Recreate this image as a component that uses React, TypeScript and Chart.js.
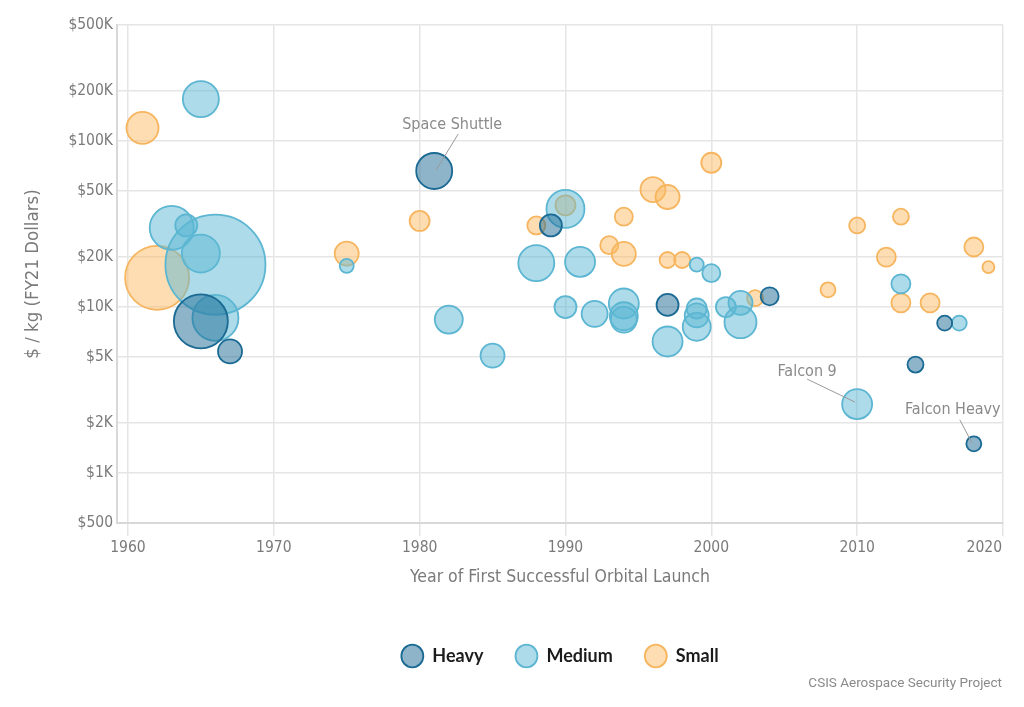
import React, { useEffect, useRef } from 'react';
import { Chart, registerables } from 'chart.js';

Chart.register(...registerables);

// ---- Data (year of first successful orbital launch, $/kg FY21, bubble size) ----
const heavyYears = [1965, 1967, 1981, 1989, 1997, 2004, 2014, 2016, 2018];
const heavyCosts = [8200, 5400, 66000, 31000, 10300, 11600, 4500, 8000, 1500];
const heavySizes = [27, 12, 18, 11, 11, 9, 8, 7.5, 7.5];

const mediumYears = [
  1963, 1964, 1965, 1965, 1966, 1966, 1975, 1982, 1985, 1988, 1990, 1990, 1991, 1992, 1994, 1994,
  1994, 1997, 1999, 1999, 1999, 1999, 2000, 2001, 2002, 2002, 2010, 2013, 2017,
];
const mediumCosts = [
  30000, 31000, 179000, 21000, 18000, 8600, 17700, 8400, 5100, 18400, 39000, 10000, 18700, 9100,
  10500, 8800, 8400, 6200, 18000, 9800, 8900, 7600, 16000, 10000, 10600, 8100, 2600, 13800, 8000,
];
const mediumSizes = [
  22, 11, 18, 19, 50, 23, 7, 14, 12, 18, 19, 11, 15, 13, 15, 14, 13, 15, 7, 10, 12, 14, 9, 10, 12,
  16, 15, 9.5, 7.5,
];

const smallYears = [
  1961, 1962, 1975, 1980, 1988, 1990, 1993, 1994, 1994, 1996, 1997, 1997, 1998, 2000, 2003, 2008,
  2010, 2012, 2013, 2013, 2015, 2018, 2019,
];
const smallCosts = [
  120000, 15000, 21000, 33000, 31000, 41000, 23600, 35000, 20900, 51000, 46000, 19200, 19200, 74000,
  11300, 12700, 31000, 20000, 35000, 10600, 10600, 23000, 17400,
];
const smallSizes = [
  16, 32, 12, 10, 9, 10, 9, 9, 12, 12.5, 12, 8, 8, 10, 8, 7.5, 8, 9.5, 8, 9.5, 9.5, 9.5, 6,
];

const seriesNames = ['Heavy', 'Medium', 'Small'];

const xTickValues = [1960, 1970, 1980, 1990, 2000, 2010, 2020];
const yTickValues = [500, 1000, 2000, 5000, 10000, 20000, 50000, 100000, 200000, 500000];
const yTickLabels = ['$500', '$1K', '$2K', '$5K', '$10K', '$20K', '$50K', '$100K', '$200K', '$500K'];

const annotationTexts = ['Space Shuttle', 'Falcon 9', 'Falcon Heavy'];
const annotationYears = [1981, 2010, 2018];
const annotationCosts = [66000, 2600, 1500];

const xTitle = 'Year of First Successful Orbital Launch';
const yTitle = '$ / kg (FY21 Dollars)';
const creditText = 'CSIS Aerospace Security Project';

// ---- Styling ----
const AXIS_FONT = "'DejaVu Sans Condensed', 'Roboto', sans-serif";
const GRID = '#e5e5e5';
const TEXT = '#7a7a7a';

const toPoints = (xs: number[], ys: number[], rs: number[]) =>
  xs.map((x, i) => ({ x, y: ys[i], r: rs[i] }));

// label offsets (px) relative to the annotated point, and leader line start/end offsets
const annotationLayout = [
  { dx: 18, dy: -46, lx1: 24, ly1: -37, lx2: 2, ly2: -1 },
  { dx: -50, dy: -32, lx1: -50, ly1: -25, lx2: -2, ly2: -2 },
  { dx: -21, dy: -34, lx1: -14, ly1: -24, lx2: -2, ly2: -1 },
];

const annotationPlugin = {
  id: 'pointAnnotations',
  afterDatasetsDraw(chart: any) {
    const { ctx, scales } = chart;
    ctx.save();
    ctx.font = `16px ${AXIS_FONT}`;
    ctx.fillStyle = '#8a8a8a';
    ctx.strokeStyle = '#9a9a9a';
    ctx.lineWidth = 1;
    ctx.textAlign = 'center';
    ctx.textBaseline = 'middle';
    annotationTexts.forEach((t, i) => {
      const px = scales.x.getPixelForValue(annotationYears[i]);
      const py = scales.y.getPixelForValue(annotationCosts[i]);
      const L = annotationLayout[i];
      ctx.beginPath();
      ctx.moveTo(px + L.lx1, py + L.ly1);
      ctx.lineTo(px + L.lx2, py + L.ly2);
      ctx.stroke();
      ctx.fillText(t, px + L.dx, py + L.dy);
    });
    ctx.restore();
  },
  afterDraw(chart: any) {
    const { ctx, scales } = chart;
    ctx.save();
    // last x tick label, right-aligned at its tick so it stays inside the plot width
    const last = xTickValues[xTickValues.length - 1];
    ctx.font = `15.5px ${AXIS_FONT}`;
    ctx.fillStyle = TEXT;
    ctx.textAlign = 'right';
    ctx.textBaseline = 'middle';
    ctx.fillText(String(last), scales.x.getPixelForValue(last) - 1, scales.x.top + 25);
    // credit line
    ctx.font = "13.5px 'Roboto', sans-serif";
    ctx.fillStyle = '#8a8a8a';
    ctx.fillText(creditText, chart.width - 22, 684);
    ctx.restore();
  },
};

export default function App() {
  const ref = useRef<HTMLCanvasElement>(null);

  useEffect(() => {
    if (!ref.current) return;
    const chart = new Chart(ref.current, {
      type: 'bubble',
      data: {
        datasets: [
          {
            label: seriesNames[0],
            data: toPoints(heavyYears, heavyCosts, heavySizes),
            backgroundColor: 'rgba(27,106,148,0.5)',
            borderColor: '#1b6a94',
            borderWidth: 1.8,
          },
          {
            label: seriesNames[1],
            data: toPoints(mediumYears, mediumCosts, mediumSizes),
            backgroundColor: 'rgba(92,184,211,0.5)',
            borderColor: '#5cb6d2',
            borderWidth: 1.8,
          },
          {
            label: seriesNames[2],
            data: toPoints(smallYears, smallCosts, smallSizes),
            backgroundColor: 'rgba(251,188,100,0.5)',
            borderColor: '#f6b55e',
            borderWidth: 1.8,
          },
        ],
      },
      options: {
        responsive: false,
        animation: false,
        layout: { autoPadding: false, padding: { left: 14, right: 21, top: 25, bottom: 32 } },
        plugins: {
          tooltip: { enabled: false },
          legend: {
            position: 'bottom',
            fullSize: false,
            labels: {
              usePointStyle: true,
              pointStyle: 'circle',
              pointStyleWidth: 22,
              boxHeight: 16,
              padding: 32,
              color: '#1c1c1c',
              font: { family: "'Lato', sans-serif", size: 18, weight: 'bold' },
            },
          },
        },
        scales: {
          x: {
            type: 'linear',
            min: 1959.25,
            max: 2020,
            afterBuildTicks: (scale: any) => {
              scale.ticks = xTickValues.map((v) => ({ value: v }));
            },
            afterFit: (scale: any) => {
              scale.height = 92;
            },
            ticks: {
              color: TEXT,
              font: { family: AXIS_FONT, size: 15.5 },
              padding: 3,
              maxRotation: 0,
              callback: (v: any, i: number, ticks: any[]) => (i === ticks.length - 1 ? '' : String(v)),
            },
            grid: { color: GRID, lineWidth: 1.5, drawTicks: true, tickLength: 13, tickColor: GRID },
            border: { display: true, color: '#d8d8d8', width: 2 },
            title: {
              display: true,
              text: xTitle,
              color: TEXT,
              font: { family: AXIS_FONT, size: 17.5 },
              padding: { top: 0, bottom: 27.5 },
            },
          },
          y: {
            type: 'logarithmic',
            min: 500,
            max: 500000,
            afterBuildTicks: (scale: any) => {
              scale.ticks = yTickValues.map((v) => ({ value: v }));
            },
            afterFit: (scale: any) => {
              scale.width = 103;
            },
            ticks: {
              color: TEXT,
              font: { family: AXIS_FONT, size: 15.5 },
              padding: 4,
              callback: (v: any) => {
                const i = yTickValues.indexOf(Number(v));
                return i >= 0 ? yTickLabels[i] : '';
              },
            },
            grid: { color: GRID, lineWidth: 1.5, drawTicks: false },
            border: { display: true, color: '#d8d8d8', width: 2 },
            title: {
              display: true,
              text: yTitle,
              color: TEXT,
              font: { family: AXIS_FONT, size: 18.5 },
              padding: { top: 8, bottom: 0 },
            },
          },
        },
      },
      plugins: [annotationPlugin],
    } as any);
    return () => chart.destroy();
  }, []);

  return (
    <div style={{ position: 'absolute', left: 0, top: 0, width: 1024, height: 707, background: '#fff' }}>
      <canvas ref={ref} width={1024} height={707} style={{ display: 'block' }} />
    </div>
  );
}
